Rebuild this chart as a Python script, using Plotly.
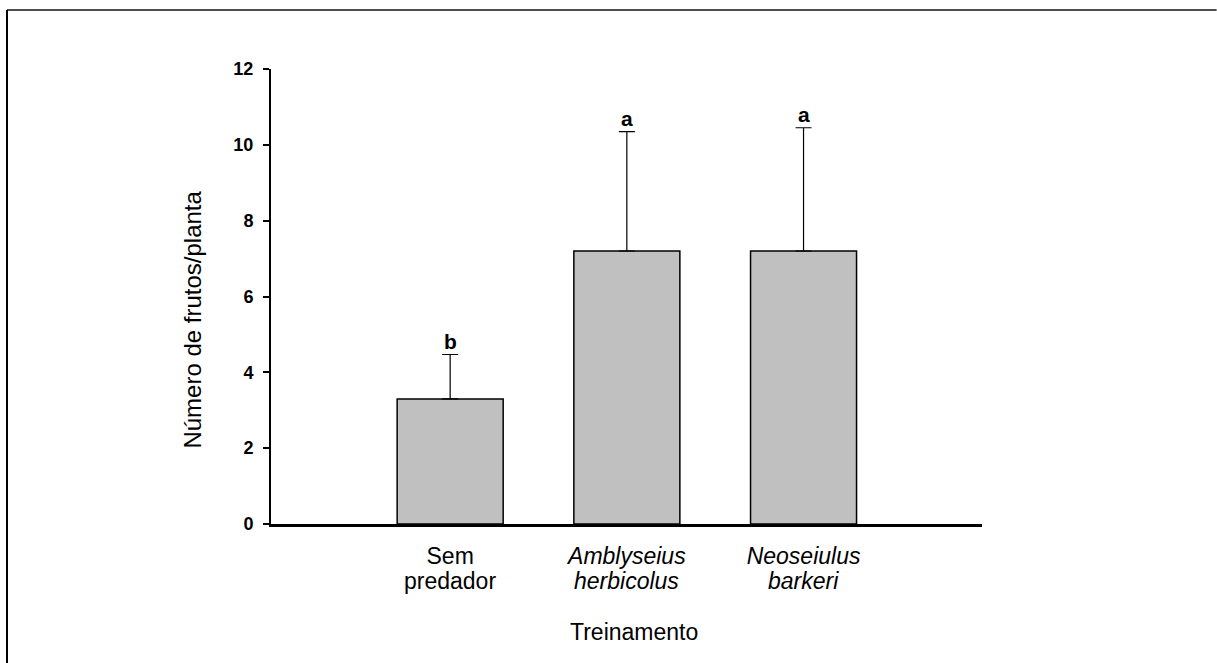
import plotly.graph_objects as go

cat_line1 = ["Sem", "<i>Amblyseius</i>", "<i>Neoseiulus</i>"]
cat_line2 = ["predador", "<i>herbicolus</i>", "<i>barkeri</i>"]
means = [3.3, 7.2, 7.2]
errors = [1.17, 3.15, 3.25]
letters = ["b", "a", "a"]
yticks = [0, 2, 4, 6, 8, 10, 12]

xpos = list(range(len(cat_line1)))

fig = go.Figure()
fig.add_trace(go.Bar(
    x=xpos, y=means, width=0.6,
    marker=dict(color="#c0c0c0", line=dict(color="black", width=1.5)),
    error_y=dict(type="data", array=errors, arrayminus=[0]*len(errors), symmetric=False,
                 color="black", thickness=1.2, width=8),
    showlegend=False, hoverinfo="skip",
))

for xi, m, e, l in zip(xpos, means, errors, letters):
    fig.add_annotation(x=xi, y=m + e, text="<b>%s</b>" % l, showarrow=False,
                       yanchor="bottom", yshift=0, font=dict(size=21, color="black"))

# second line of category labels
for xi, t in zip(xpos, cat_line2):
    fig.add_annotation(x=xi, xref="x", yref="paper", y=-0.1253, text=t, showarrow=False,
                       xanchor="center", yanchor="middle", font=dict(size=23, color="black"))

# axis titles
fig.add_annotation(xref="paper", yref="paper", x=0.511, y=-0.237, text="Treinamento",
                   showarrow=False, xanchor="center", yanchor="middle", font=dict(size=23, color="black"))
fig.add_annotation(xref="paper", yref="paper", x=-0.1106, y=0.45, text="Número de frutos/planta",
                   textangle=-90, showarrow=False, xanchor="center", yanchor="middle",
                   font=dict(size=24, color="black"))

# outer frame (top and left lines)
fig.add_shape(type="line", xref="paper", yref="paper", x0=-0.3713, x1=1.33, y0=1.1297, y1=1.1297,
              line=dict(color="#4d4d4d", width=2))
fig.add_shape(type="line", xref="paper", yref="paper", x0=-0.3713, x1=-0.3713, y0=1.1297, y1=-0.35,
              line=dict(color="black", width=2))

fig.update_layout(
    width=1217, height=663,
    margin=dict(l=271, r=235, t=69, b=139),
    paper_bgcolor="white", plot_bgcolor="white",
    font=dict(family="Liberation Sans, Arial", color="black"),
    xaxis=dict(range=[-1.014, 3.01], tickmode="array", tickvals=xpos, ticktext=cat_line1,
               showline=True, linecolor="black", linewidth=3, ticks="", showgrid=False,
               zeroline=False, tickfont=dict(size=23), ticklabelstandoff=9),
    yaxis=dict(range=[0, 12], tickmode="array", tickvals=yticks,
               ticktext=["<b>%d</b>" % v for v in yticks],
               showline=True, linecolor="black", linewidth=2, ticks="outside", ticklen=6,
               tickwidth=1.5, tickcolor="black", showgrid=False, zeroline=False,
               tickfont=dict(size=18), ticklabelstandoff=6),
)

fig.write_html("out.html")
